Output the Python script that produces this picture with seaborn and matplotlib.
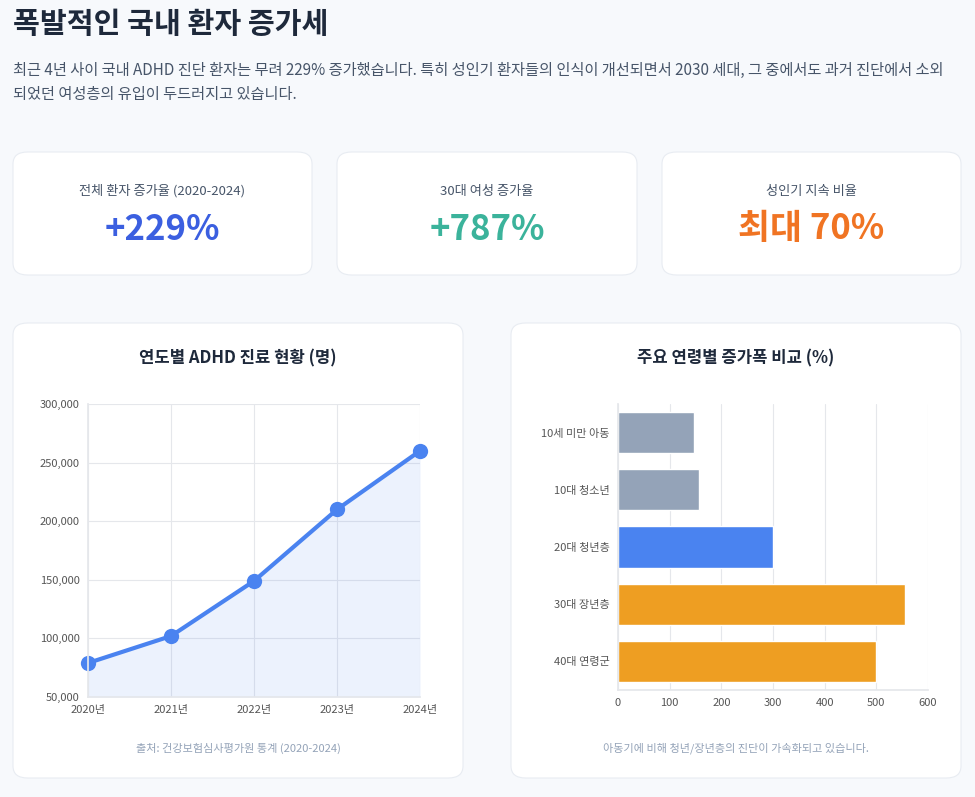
import numpy as np
import pandas as pd
import matplotlib.pyplot as plt
import seaborn as sns
from matplotlib.patches import FancyBboxPatch

years = ["2020년", "2021년", "2022년", "2023년", "2024년"]
patients = [79000, 102000, 149000, 210000, 260000]

groups = ["10세 미만 아동", "10대 청소년", "20대 청년층", "30대 장년층", "40대 연령군"]
growth = [148, 157, 300, 555, 500]
bar_colors = ["#94a3b8", "#94a3b8", "#4a83f0", "#ee9e22", "#ee9e22"]

kpi_labels = ["전체 환자 증가율 (2020-2024)", "30대 여성 증가율", "성인기 지속 비율"]
kpi_values = ["+229%", "+787%", "최대 70%"]
kpi_colors = ["#3b5fe0", "#3bb39b", "#f07423"]


def card(fig, x0, y0, x1, y1):
    W, H = 975, 797
    fig.patches.append(FancyBboxPatch((x0 / W, 1 - y1 / H), (x1 - x0) / W, (y1 - y0) / H,
                                      boxstyle="round,pad=0,rounding_size=0.015",
                                      transform=fig.transFigure, facecolor="white",
                                      edgecolor="#e8ecf2", linewidth=0.8, zorder=-5))


def main():
    sns.set_theme(style="whitegrid")
    plt.rcParams['font.family'] = ['Noto Sans CJK KR', 'DejaVu Sans']

    fig = plt.figure(figsize=(9.75, 7.97), dpi=100, facecolor="#f7f9fc")
    W, H = 975, 797

    fig.text(13 / W, 1 - 24 / H, "폭발적인 국내 환자 증가세", fontsize=21, fontweight="bold",
             color="#1e293b", va="center")
    fig.text(13 / W, 1 - 70 / H, "최근 4년 사이 국내 ADHD 진단 환자는 무려 229% 증가했습니다. 특히 성인기 환자들의 인식이 개선되면서 2030 세대, 그 중에서도 과거 진단에서 소외",
             fontsize=11, color="#475569", va="center")
    fig.text(13 / W, 1 - 94 / H, "되었던 여성층의 유입이 두드러지고 있습니다.",
             fontsize=11, color="#475569", va="center")

    # KPI cards
    boxes = [(13, 312), (337, 637), (662, 961)]
    for (x0, x1), lab, val, col in zip(boxes, kpi_labels, kpi_values, kpi_colors):
        card(fig, x0, 152, x1, 275)
        cx = (x0 + x1) / 2 / W
        fig.text(cx, 1 - 191 / H, lab, fontsize=9.5, color="#475569", ha="center", va="center",
                 fontweight="medium")
        fig.text(cx, 1 - 229 / H, val, fontsize=25, fontweight="bold", color=col, ha="center", va="center")

    # chart cards
    card(fig, 13, 323, 463, 778)
    card(fig, 511, 323, 961, 778)
    fig.text(238 / W, 1 - 358 / H, "연도별 ADHD 진료 현황 (명)", fontsize=12, fontweight="bold",
             color="#1e293b", ha="center", va="center")
    fig.text(736 / W, 1 - 358 / H, "주요 연령별 증가폭 비교 (%)", fontsize=12, fontweight="bold",
             color="#1e293b", ha="center", va="center")
    fig.text(238 / W, 1 - 748 / H, "출처: 건강보험심사평가원 통계 (2020-2024)", fontsize=8,
             color="#94a3b8", ha="center", va="center")
    fig.text(736 / W, 1 - 748 / H, "아동기에 비해 청년/장년층의 진단이 가속화되고 있습니다.", fontsize=8,
             color="#94a3b8", ha="center", va="center")

    # line chart
    df = pd.DataFrame({"x": np.arange(len(years)), "patients": patients})
    ax1 = fig.add_axes([88 / W, 1 - 697 / H, 332 / W, 293 / H])
    ax1.set_zorder(2)
    ax1.set_facecolor("white")
    ax1.fill_between(df["x"], df["patients"], 50000, color="#4a83f0", alpha=0.1, linewidth=0)
    sns.lineplot(data=df, x="x", y="patients", ax=ax1, color="#4a83f0", linewidth=3,
                 marker="o", markersize=11, markeredgewidth=0, clip_on=False)
    ax1.set_xlim(0, 4)
    ax1.set_ylim(50000, 300000)
    ax1.set_xticks(df["x"])
    ax1.set_xticklabels(years)
    ax1.yaxis.set_major_formatter(plt.FuncFormatter(lambda v, p: f"{int(v):,}"))
    ax1.set_xlabel("")
    ax1.set_ylabel("")
    ax1.tick_params(labelsize=8, colors="#555555", length=0, pad=6)
    ax1.grid(True, color="#e5e7eb", linewidth=0.8)
    for s in ax1.spines.values():
        s.set_visible(False)
    ax1.spines["left"].set_visible(True)
    ax1.spines["bottom"].set_visible(True)
    ax1.spines["left"].set_color("#e5e7eb")
    ax1.spines["bottom"].set_color("#e5e7eb")

    # bar chart
    bdf = pd.DataFrame({"group": groups, "growth": growth})
    ax2 = fig.add_axes([618 / W, 1 - 690 / H, 310 / W, 286 / H])
    ax2.set_zorder(2)
    ax2.set_facecolor("white")
    sns.barplot(data=bdf, y="group", x="growth", hue="group", palette=bar_colors,
                legend=False, ax=ax2, width=0.72, saturation=1)
    ax2.set_xlim(0, 600)
    ax2.set_xticks(range(0, 601, 100))
    ax2.set_xlabel("")
    ax2.set_ylabel("")
    ax2.tick_params(labelsize=8, colors="#555555", length=0, pad=6)
    ax2.grid(True, axis="x", color="#e5e7eb", linewidth=0.8)
    ax2.grid(False, axis="y")
    for s in ax2.spines.values():
        s.set_visible(False)
    ax2.spines["left"].set_visible(True)
    ax2.spines["bottom"].set_visible(True)
    ax2.spines["left"].set_color("#e5e7eb")
    ax2.spines["bottom"].set_color("#e5e7eb")

    plt.savefig("out.png", dpi=100, facecolor=fig.get_facecolor())


if __name__ == "__main__":
    main()
